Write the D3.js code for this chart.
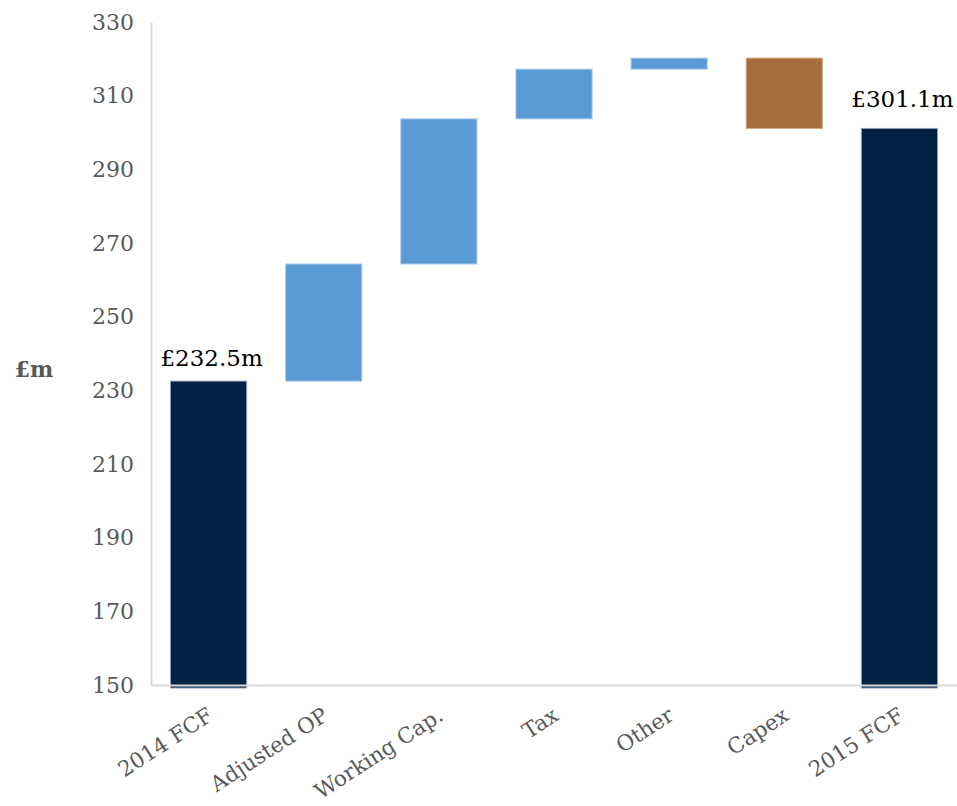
<!DOCTYPE html>
<html>
<head>
<meta charset="utf-8">
<script src="https://cdn.jsdelivr.net/npm/d3@7"></script>
<style>
  html, body { margin: 0; padding: 0; background: #ffffff; }
  svg text { font-family: "DejaVu Serif", "Liberation Serif", serif; }
</style>
</head>
<body>
<svg id="chart" width="957" height="806"></svg>
<script>
// Free cash flow bridge, 2014 to 2015 (£m)
const categories = ["2014 FCF", "Adjusted OP", "Working Cap.", "Tax", "Other", "Capex", "2015 FCF"];
const kinds      = ["total", "delta", "delta", "delta", "delta", "delta", "total"];
const values     = [232.5, 31.8, 39.4, 13.5, 3.0, -19.1, 301.1];
const yTicks     = [150, 170, 190, 210, 230, 250, 270, 290, 310, 330];
const valueLabels = ["£232.5m", null, null, null, null, null, "£301.1m"];

const colors = { total: "#012244", up: "#5b9bd5", down: "#a56d3e" };
const strokes = { total: "#8fa0b8", up: "#a9c9ea", down: "#d2a985" };

// running totals -> [start, end] of each floating bar
let running = 0;
const bars = categories.map((c, i) => {
  let lo, hi, type;
  if (kinds[i] === "total") {
    running = values[i];
    lo = yTicks[0]; hi = values[i]; type = "total";
  } else {
    const start = running;
    running = start + values[i];
    lo = Math.min(start, running); hi = Math.max(start, running);
    type = values[i] >= 0 ? "up" : "down";
  }
  return { cat: c, idx: i, lo, hi, type, label: valueLabels[i] };
});

const svg = d3.select("#chart");
const margin = { left: 151, right: 0, top: 22, bottom: 121 };
const W = 957, H = 806;

const x = d3.scaleBand()
  .domain(categories)
  .range([margin.left, W - margin.right])
  .paddingInner(0.33)
  .paddingOuter(0.165);

const y = d3.scaleLinear()
  .domain([150, 330])
  .range([H - margin.bottom, margin.top]);

// bars (the total bars run a few pixels past the baseline)
svg.append("g").selectAll("rect")
  .data(bars)
  .join("rect")
  .attr("x", d => x(d.cat) + 0.5)
  .attr("width", x.bandwidth() - 1)
  .attr("y", d => y(d.hi))
  .attr("height", d => (d.type === "total" ? y(d.lo) + 3 : y(d.lo)) - y(d.hi))
  .attr("fill", d => colors[d.type])
  .attr("stroke", d => strokes[d.type])
  .attr("stroke-width", 1);

// y axis
const yAxis = d3.axisLeft(y).tickValues(yTicks).tickSize(0).tickPadding(17);
const gy = svg.append("g").attr("transform", `translate(${margin.left},0)`).call(yAxis);
gy.select(".domain").attr("stroke", "#d9d9d9").attr("stroke-width", 2);
gy.selectAll("text")
  .attr("fill", "#595959")
  .style("font-size", "22px");

// x axis
const xAxis = d3.axisBottom(x).tickSize(0).tickFormat("");
const gx = svg.append("g").attr("transform", `translate(0,${y(150)})`).call(xAxis);
gx.select(".domain").attr("stroke", "#d9d9d9").attr("stroke-width", 2);

// rotated category labels
svg.append("g").selectAll("text")
  .data(categories)
  .join("text")
  .attr("transform", d => `translate(${x(d) + x.bandwidth() / 2 + 6},${y(150) + 34}) rotate(-33)`)
  .attr("text-anchor", "end")
  .attr("fill", "#595959")
  .style("font-size", "21.5px")
  .text(d => d);

// value labels above total bars
const labelGap = d => (d.idx === 0 ? 15 : 21);
svg.append("g").selectAll("text")
  .data(bars.filter(d => d.label))
  .join("text")
  .attr("x", d => x(d.cat) + x.bandwidth() / 2 + 3)
  .attr("y", d => y(d.hi) - labelGap(d))
  .attr("text-anchor", "middle")
  .attr("fill", "#000000")
  .style("font-size", "23px")
  .text(d => d.label);

// unit label
svg.append("text")
  .attr("x", 34)
  .attr("y", y(230) - 13)
  .attr("text-anchor", "middle")
  .attr("fill", "#595959")
  .style("font-size", "22px")
  .style("font-weight", "bold")
  .text("£m");
</script>
</body>
</html>
